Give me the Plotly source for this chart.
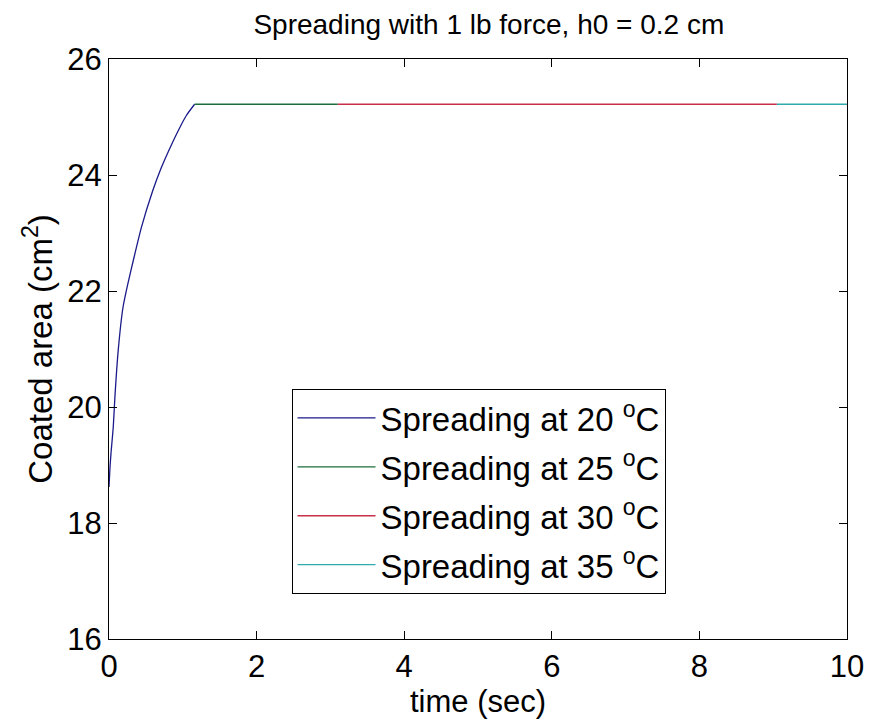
import plotly.graph_objects as go

# Data
t20 = [0, 0.013, 0.027, 0.058, 0.08, 0.125, 0.19, 0.26, 0.33, 0.44, 0.59, 0.70, 0.82, 0.96, 1.05, 1.16]
a20 = [18.62, 18.95, 19.2, 19.66, 20.17, 20.98, 21.72, 22.15, 22.53, 23.1, 23.72, 24.1, 24.45, 24.82, 25.03, 25.22]
t25 = [1.16, 3.1]
a25 = [25.22, 25.22]
t30 = [3.1, 9.05]
a30 = [25.22, 25.22]
t35 = [9.05, 10]
a35 = [25.22, 25.22]

names = ["Spreading at 20 <sup>o</sup>C", "Spreading at 25 <sup>o</sup>C",
         "Spreading at 30 <sup>o</sup>C", "Spreading at 35 <sup>o</sup>C"]
colors = ["#1a1a8a", "#1a6e3a", "#c8304a", "#30aaaa"]

x_ticks = [0, 2, 4, 6, 8, 10]
y_ticks = [16, 18, 20, 22, 24, 26]

FONT = "Liberation Sans, Arial, sans-serif"

fig = go.Figure()
for i, (t, a) in enumerate([(t20, a20), (t25, a25), (t30, a30), (t35, a35)]):
    fig.add_trace(go.Scatter(x=t, y=a, mode="lines", name=names[i],
                             legendgroup=f"g{i}", line_shape="spline",
                             line=dict(color=colors[i], width=1.3, smoothing=0.6)))

axis_common = dict(showline=True, linecolor="black", linewidth=1.2, mirror="ticks",
                   ticks="inside", ticklen=8, tickcolor="black", tickwidth=1,
                   showgrid=False, zeroline=False,
                   tickfont=dict(family=FONT, size=31, color="black"))

fig.update_layout(
    width=876, height=721,
    margin=dict(l=109, r=23, t=59, b=82),
    paper_bgcolor="white", plot_bgcolor="white",
    font=dict(family=FONT, color="black"),
    title=dict(text="Spreading with 1 lb force, h0 = 0.2 cm",
               font=dict(family=FONT, size=28, color="black"),
               x=0.558, xanchor="center", y=1 - 24 / 721, yanchor="middle",
               xref="container", yref="container"),
    xaxis=dict(range=[0, 10], tickvals=x_ticks, ticktext=[str(v) for v in x_ticks],
               title=dict(text="time (sec)", font=dict(family=FONT, size=31, color="black"),
                          standoff=0),
               **axis_common),
    yaxis=dict(range=[16, 26], tickvals=y_ticks, ticktext=[str(v) for v in y_ticks],
               title=dict(text="Coated area (cm<sup>2</sup>)",
                          font=dict(family=FONT, size=33, color="black"), standoff=4),
               **axis_common),
    legend=dict(x=(293 - 109) / 744, y=(639 - 389) / 580, xanchor="left", yanchor="top",
                bordercolor="black", borderwidth=1, bgcolor="white",
                font=dict(family=FONT, size=33, color="black"),
                traceorder="grouped", tracegroupgap=3, itemwidth=78),
    showlegend=True,
)

fig.write_html("out.html")
